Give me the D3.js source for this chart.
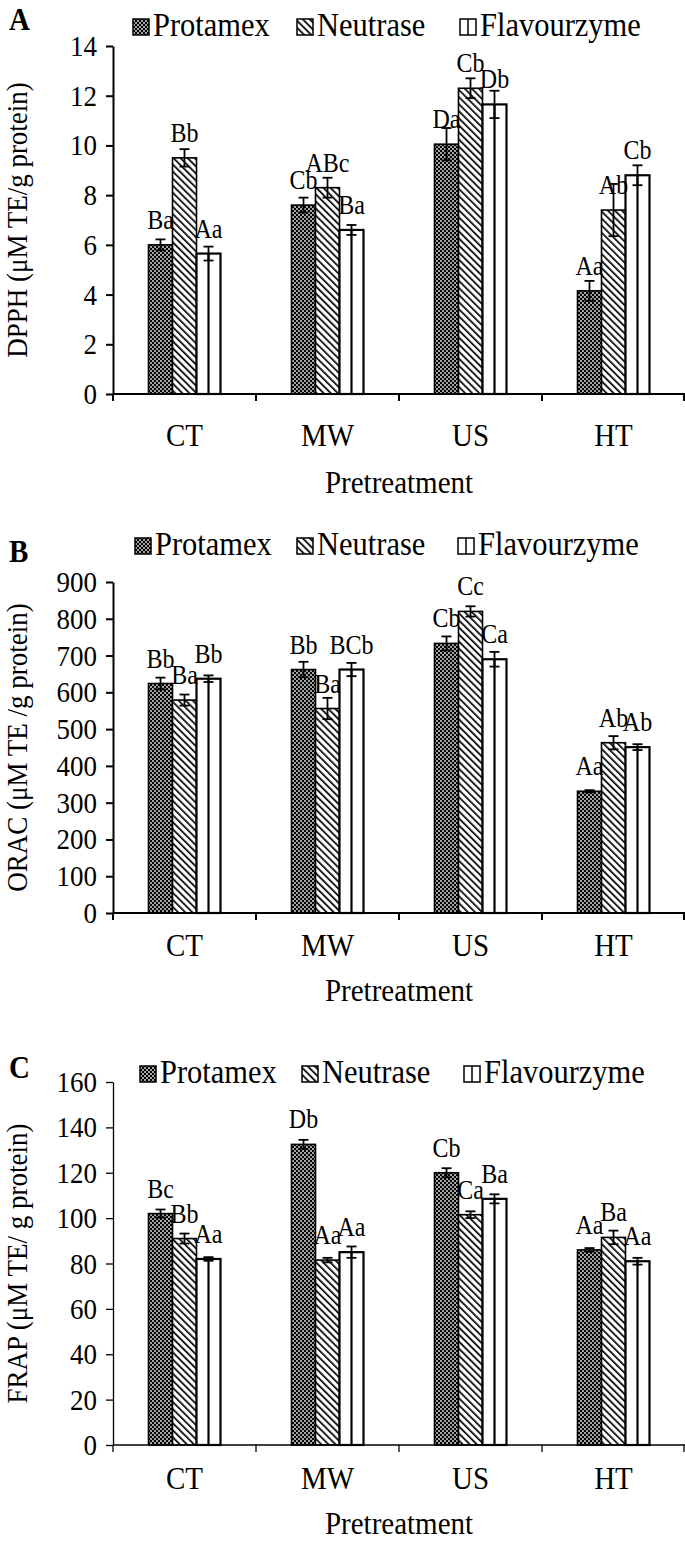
<!DOCTYPE html>
<html><head><meta charset="utf-8">
<script src="https://cdn.jsdelivr.net/npm/d3@7"></script>
<style>
body{margin:0;background:#fff}
text{font-family:"Liberation Serif","Times New Roman",serif;fill:#000}
</style>
</head><body>
<svg id="c" width="685" height="1545"></svg>
<script>
// ---------- DATA ----------
const categories = ["CT", "MW", "US", "HT"];
const enzymes = ["Protamex", "Neutrase", "Flavourzyme"];
const xTitle = "Pretreatment";

// Panel A: DPPH
const dpphTicks = [0, 2, 4, 6, 8, 10, 12, 14];
const dpphProtamex = [6.0, 7.6, 10.05, 4.15];
const dpphNeutrase = [9.5, 8.3, 12.3, 7.4];
const dpphFlavourzyme = [5.65, 6.6, 11.65, 8.8];
const dpphErrProtamex = [0.22, 0.3, 0.65, 0.4];
const dpphErrNeutrase = [0.35, 0.4, 0.4, 1.05];
const dpphErrFlavourzyme = [0.28, 0.2, 0.55, 0.4];
const dpphLblProtamex = ["Ba", "Cb", "Da", "Aa"];
const dpphLblNeutrase = ["Bb", "ABc", "Cb", "Ab"];
const dpphLblFlavourzyme = ["Aa", "Ba", "Db", "Cb"];

// Panel B: ORAC
const oracTicks = [0, 100, 200, 300, 400, 500, 600, 700, 800, 900];
const oracProtamex = [624, 662, 733, 331];
const oracNeutrase = [579, 556, 820, 463];
const oracFlavourzyme = [637, 662, 690, 451];
const oracErrProtamex = [16, 21, 19, 3];
const oracErrNeutrase = [15, 29, 14, 18];
const oracErrFlavourzyme = [9, 18, 20, 8];
const oracLblProtamex = ["Bb", "Bb", "Cb", "Aa"];
const oracLblNeutrase = ["Ba", "Ba", "Cc", "Ab"];
const oracLblFlavourzyme = ["Bb", "BCb", "Ca", "Ab"];

// Panel C: FRAP
const frapTicks = [0, 20, 40, 60, 80, 100, 120, 140, 160];
const frapProtamex = [102, 132.5, 120, 86];
const frapNeutrase = [91, 81.5, 101.5, 91.5];
const frapFlavourzyme = [82, 85, 108.5, 81];
const frapErrProtamex = [1.8, 2, 2, 0.8];
const frapErrNeutrase = [2.2, 1, 1.5, 3];
const frapErrFlavourzyme = [0.8, 2.5, 2, 1.5];
const frapLblProtamex = ["Bc", "Db", "Cb", "Aa"];
const frapLblNeutrase = ["Bb", "Aa", "Ca", "Ba"];
const frapLblFlavourzyme = ["Aa", "Aa", "Ba", "Aa"];

// ---------- LAYOUT ----------
const SY = 1.1; // vertical stretch of lettering, as in the reference
const svg = d3.select("#c");
const defs = svg.append("defs");

const pc = defs.append("pattern").attr("id", "pChk").attr("patternUnits", "userSpaceOnUse")
  .attr("width", 4).attr("height", 4);
pc.append("rect").attr("width", 4).attr("height", 4).attr("fill", "#000");
pc.append("rect").attr("x", 0.2).attr("y", 0.2).attr("width", 1.6).attr("height", 1.6).attr("fill", "#fff");
pc.append("rect").attr("x", 2.2).attr("y", 2.2).attr("width", 1.6).attr("height", 1.6).attr("fill", "#fff");
const pd = defs.append("pattern").attr("id", "pDiag").attr("patternUnits", "userSpaceOnUse")
  .attr("width", 5).attr("height", 5).attr("patternTransform", "rotate(-45)");
pd.append("rect").attr("width", 5).attr("height", 5).attr("fill", "#fff");
pd.append("rect").attr("width", 1.7).attr("height", 5).attr("fill", "#000");

const fills = {Protamex: "url(#pChk)", Neutrase: "url(#pDiag)", Flavourzyme: "#fff"};

const x0 = d3.scaleBand().domain(categories).range([113, 685]);
const groupW = 72;
const x1 = d3.scaleBand().domain(enzymes).range([0, groupW]);
const gOff = (x0.bandwidth() - groupW) / 2;

function stxt(sel, x, y) {
  return sel.attr("transform", (d, i) => {
    const xx = typeof x === "function" ? x(d, i) : x;
    const yy = typeof y === "function" ? y(d, i) : y;
    return `translate(${xx},${yy}) scale(1,${SY})`;
  });
}

function panel(cfg) {
  const g = svg.append("g");
  const y = d3.scaleLinear().domain([0, cfg.ticks[cfg.ticks.length - 1]]).range([cfg.bottom, cfg.top]);
  const rows = [];
  enzymes.forEach((e, k) => {
    categories.forEach((c, i) => {
      rows.push({c, e, v: cfg.values[k][i], err: cfg.errs[k][i], lbl: cfg.labels[k][i]});
    });
  });

  const bx = d => x0(d.c) + gOff + x1(d.e);
  const cx = d => bx(d) + x1.bandwidth() / 2;
  g.selectAll("rect.bar").data(rows).join("rect").attr("class", "bar")
    .attr("x", bx).attr("width", x1.bandwidth())
    .attr("y", d => y(d.v)).attr("height", d => y(0) - y(d.v))
    .attr("fill", d => fills[d.e]).attr("stroke", "#000")
    .attr("stroke-width", d => d.e === "Flavourzyme" ? 2.2 : 1.6);
  g.selectAll("line.mid").data(rows.filter(d => d.e === "Flavourzyme")).join("line")
    .attr("x1", cx).attr("x2", cx)
    .attr("y1", d => y(d.v)).attr("y2", y(0)).attr("stroke", "#000").attr("stroke-width", 2.2);

  const eb = g.selectAll("g.eb").data(rows).join("g").attr("stroke", "#000").attr("stroke-width", 1.8);
  eb.append("line").attr("x1", cx).attr("x2", cx).attr("y1", d => y(d.v - d.err)).attr("y2", d => y(d.v + d.err));
  eb.append("line").attr("x1", d => cx(d) - 5).attr("x2", d => cx(d) + 5).attr("y1", d => y(d.v + d.err)).attr("y2", d => y(d.v + d.err));
  eb.append("line").attr("x1", d => cx(d) - 5).attr("x2", d => cx(d) + 5).attr("y1", d => y(d.v - d.err)).attr("y2", d => y(d.v - d.err));

  stxt(g.selectAll("text.lbl").data(rows).join("text").attr("class", "lbl"), cx, d => y(d.v) - 16)
    .attr("text-anchor", "middle").style("font-size", "24px").text(d => d.lbl);

  const ya = g.append("g").attr("transform", "translate(113,0)")
    .call(d3.axisLeft(y).tickValues(cfg.ticks).tickSize(7).tickSizeOuter(0).tickPadding(9).tickFormat(d3.format("d")));
  ya.selectAll("path,line").attr("stroke", "#000").attr("stroke-width", cfg.axisW);
  ya.selectAll("text").style("font-size", "27px").attr("font-family", null)
    .attr("transform", `scale(1,${SY})`);

  g.append("line").attr("x1", 113).attr("x2", 685).attr("y1", y(0)).attr("y2", y(0))
    .attr("stroke", "#000").attr("stroke-width", cfg.axisW);
  const bounds = categories.map(c => x0(c)).concat([x0.range()[1]]);
  g.selectAll("line.xt").data(bounds).join("line").attr("class", "xt")
    .attr("x1", d => Math.min(d, 684)).attr("x2", d => Math.min(d, 684))
    .attr("y1", y(0)).attr("y2", y(0) + 7).attr("stroke", "#000").attr("stroke-width", cfg.axisW);
  stxt(g.selectAll("text.cat").data(categories).join("text").attr("class", "cat"),
      c => x0(c) + x0.bandwidth() / 2, cfg.catY)
    .attr("text-anchor", "middle").style("font-size", "29px").text(c => c);
  stxt(g.append("text"), 399, cfg.titleY).attr("text-anchor", "middle")
    .style("font-size", "29px").text(xTitle);

  g.append("text").attr("transform", `translate(${cfg.yTitleX},${(cfg.top + cfg.bottom) / 2}) rotate(-90) scale(1,${SY})`)
    .attr("text-anchor", "middle").style("font-size", "27px").text(cfg.yTitle);

  stxt(g.append("text"), 9, cfg.letterY).style("font-size", "29px")
    .style("font-weight", "bold").text(cfg.letter);

  const lg = g.selectAll("g.leg").data(enzymes).join("g").attr("class", "leg")
    .attr("transform", (e, i) => `translate(${cfg.legX[i]},${cfg.legY})`);
  lg.append("rect").attr("x", 0).attr("y", -17).attr("width", 16).attr("height", 16)
    .attr("fill", e => fills[e]).attr("stroke", "#000").attr("stroke-width", 1.5);
  lg.filter(e => e === "Flavourzyme").append("line").attr("x1", 8).attr("x2", 8)
    .attr("y1", -17).attr("y2", -1).attr("stroke", "#000").attr("stroke-width", 1.5);
  stxt(lg.append("text"), 20, 0).style("font-size", "30.5px").text(e => e);
}

panel({letter: "A", top: 46, bottom: 394, ticks: dpphTicks,
  values: [dpphProtamex, dpphNeutrase, dpphFlavourzyme],
  errs: [dpphErrProtamex, dpphErrNeutrase, dpphErrFlavourzyme],
  labels: [dpphLblProtamex, dpphLblNeutrase, dpphLblFlavourzyme],
  yTitle: "DPPH (μM TE/g protein)", yTitleX: 27, axisW: 2,
  catY: 446, titleY: 493, letterY: 30, legY: 36, legX: [133, 297, 460]});

panel({letter: "B", top: 582, bottom: 913, ticks: oracTicks,
  values: [oracProtamex, oracNeutrase, oracFlavourzyme],
  errs: [oracErrProtamex, oracErrNeutrase, oracErrFlavourzyme],
  labels: [oracLblProtamex, oracLblNeutrase, oracLblFlavourzyme],
  yTitle: "ORAC (μM TE /g protein)", yTitleX: 27, axisW: 2,
  catY: 956, titleY: 1001, letterY: 562, legY: 555, legX: [135, 297, 458]});

panel({letter: "C", top: 1082, bottom: 1445, ticks: frapTicks,
  values: [frapProtamex, frapNeutrase, frapFlavourzyme],
  errs: [frapErrProtamex, frapErrNeutrase, frapErrFlavourzyme],
  labels: [frapLblProtamex, frapLblNeutrase, frapLblFlavourzyme],
  yTitle: "FRAP (μM TE/ g protein)", yTitleX: 27, axisW: 1.3,
  catY: 1489, titleY: 1534, letterY: 1078, legY: 1083, legX: [140, 302, 464]});
</script>
</body></html>
